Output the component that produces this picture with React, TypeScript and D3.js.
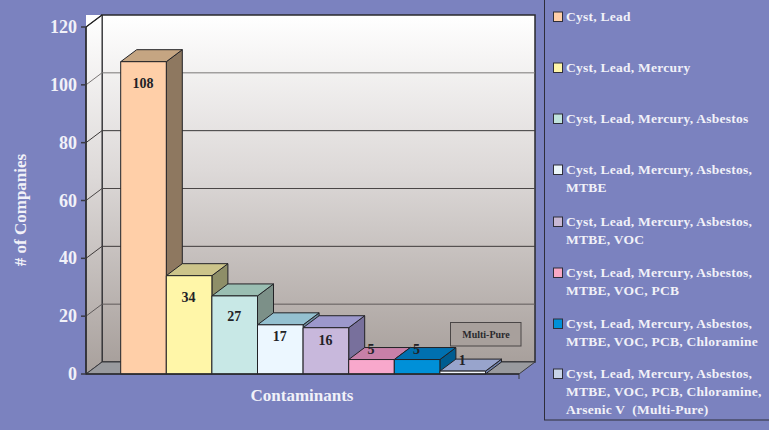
import React from "react";
import * as d3 from "d3";

const categories = [
  "Cyst, Lead",
  "Cyst, Lead, Mercury",
  "Cyst, Lead, Mercury, Asbestos",
  "Cyst, Lead, Mercury, Asbestos,\nMTBE",
  "Cyst, Lead, Mercury, Asbestos,\nMTBE, VOC",
  "Cyst, Lead, Mercury, Asbestos,\nMTBE, VOC, PCB",
  "Cyst, Lead, Mercury, Asbestos,\nMTBE, VOC, PCB, Chloramine",
  "Cyst, Lead, Mercury, Asbestos,\nMTBE, VOC, PCB, Chloramine,\nArsenic V  (Multi-Pure)",
];
const values = [108, 34, 27, 17, 16, 5, 5, 1];
const ticks = [0, 20, 40, 60, 80, 100, 120];
const frontColors = ["#FFCFA8", "#FFF6A8", "#C8E8E6", "#ECF7FF", "#C8B8DC", "#F8A8CC", "#0090D8", "#F0F4FA"];
const legendColors = ["#FFCFA8", "#FFF6A8", "#C0E4DC", "#ECF7FA", "#C8B8D4", "#F8A8C4", "#0090D8", "#C8D4E8"];
const topColors = ["#C5A582", "#CCC48A", "#9ABEB2", "#94C0D0", "#9C98CC", "#C880A8", "#0070B0", "#98A4CC"];
const sideColors = ["#8E7860", "#8E8E68", "#7C9088", "#6E8CA0", "#78709C", "#9868A0", "#005C90", "#7080A8"];
const labelOffsets = [22, 22, 21, 12, 13, -10, -10, -11];
const legendBaselines = [21, 72, 123, 174, 226, 277, 328, 378];
const gridColors = ["#5E5A5A", "#3E3A3A", "#4A4646", "#3A3838", "#7A7676"];

const BG = "#7B82BF";
const TXT = "#F1F1F8";
const SERIF = "'Liberation Serif', serif";
const DX = 16;
const DY = -12;

const y = d3.scaleLinear().domain([0, 120]).range([374, 27]);
const x = d3.scaleBand<number>().domain(d3.range(8)).range([120.7, 485.5]).padding(0);
const X0 = 86;
const X1 = 519;

export default function App() {
  const line = d3.line();
  const bw = x.bandwidth();
  return (
    <svg width={769} height={430} style={{ position: "absolute", left: 0, top: 0, display: "block" }}>
      <defs>
        <linearGradient id="wall" x1="0" y1="0" x2="0" y2="1">
          <stop offset="0" stopColor="#FFFFFF" />
          <stop offset="0.45" stopColor="#DDD9D8" />
          <stop offset="1" stopColor="#A8A09C" />
        </linearGradient>
      </defs>
      <rect width={769} height={430} fill={BG} />

      {/* white corner above the side wall */}
      <rect x={X0} y={y(120) + DY} width={DX} height={-DY} fill="#FFFFFF" />

      {/* back wall, side wall, floor */}
      <rect x={X0 + DX} y={y(120) + DY} width={X1 - X0} height={y(0) - y(120)} fill="url(#wall)" stroke="#2A2A2E" strokeWidth={1.5} />
      <path d={line([[X0, y(120)], [X0 + DX, y(120) + DY], [X0 + DX, y(0) + DY], [X0, y(0)]])! + "Z"} fill="url(#wall)" stroke="#2A2A2E" strokeWidth={1} />
      <path d={line([[X0, y(0)], [X0 + DX, y(0) + DY], [X1 + DX, y(0) + DY], [X1, y(0)]])! + "Z"} fill="#999A9E" stroke="#3A3A3E" strokeWidth={1} />

      {/* gridlines */}
      {ticks.slice(1, -1).map((t, i) => (
        <path key={t} d={line([[X0, y(t)], [X0 + DX, y(t) + DY], [X1 + DX, y(t) + DY]])!} stroke={gridColors[i]} strokeWidth={1} fill="none" />
      ))}
      <path d={line([[X0, y(120)], [X0 + DX, y(120) + DY]])!} stroke="#222" strokeWidth={1.2} fill="none" />

      {/* annotation */}
      <rect x={450.5} y={322.5} width={70.5} height={23.5} fill="#A8A09C" stroke="#4A4646" strokeWidth={1} />
      <text x={486} y={338} textAnchor="middle" fontFamily={SERIF} fontWeight="bold" fontSize={10} fill="#2A2A2E">Multi-Pure</text>

      {/* bars */}
      {values.map((v, i) => {
        const l = x(i)!;
        const r = l + bw;
        const t = y(v);
        const b = y(0);
        return (
          <g key={i} stroke="#222226" strokeWidth={1} strokeLinejoin="round">
            <path d={line([[r, t], [r + DX, t + DY], [r + DX, b + DY], [r, b]])! + "Z"} fill={sideColors[i]} />
            <path d={line([[l, t], [l + DX, t + DY], [r + DX, t + DY], [r, t]])! + "Z"} fill={topColors[i]} />
            <rect x={l} y={t} width={bw} height={b - t} fill={frontColors[i]} />
          </g>
        );
      })}
      <path d={line([[X1, y(0)], [X1, y(0) + 5]])!} stroke="#3A3A3E" fill="none" />
      {values.map((v, i) => (
        <text key={i} x={x(i)! + bw / 2 - 0.5} y={y(v) + labelOffsets[i] + 4.5} textAnchor="middle" fontFamily={SERIF} fontWeight="bold" fontSize={14} fill="#222226">
          {v}
        </text>
      ))}

      {/* axes */}
      <path d={line([[X0, y(120)], [X0, y(0)], [X1, y(0)]])!} stroke="#2A2A2E" strokeWidth={1.5} fill="none" />
      {ticks.map((t) => (
        <g key={t}>
          <path d={line([[X0 - 5, y(t)], [X0, y(t)]])!} stroke="#3A3A44" strokeWidth={1.5} fill="none" />
          <text x={77} y={y(t) + 6} textAnchor="end" fontFamily={SERIF} fontWeight="bold" fontSize={18} fill={TXT}>
            {t}
          </text>
        </g>
      ))}
      <text transform="translate(26,210) rotate(-90)" textAnchor="middle" fontFamily={SERIF} fontWeight="bold" fontSize={17} fill={TXT}># of Companies</text>
      <text x={302} y={401} textAnchor="middle" fontFamily={SERIF} fontWeight="bold" fontSize={17} fill={TXT}>Contaminants</text>

      {/* legend */}
      <rect x={544.5} y={-2} width={230} height={422} fill={BG} stroke="#2E2E3A" strokeWidth={1} />
      {categories.map((c, i) => (
        <g key={i}>
          <rect x={553.5} y={legendBaselines[i] - 9} width={9} height={9.5} fill={legendColors[i]} stroke="#2E2E3A" strokeWidth={1} />
          {c.split("\n").map((s, j) => (
            <text key={j} x={566} y={legendBaselines[i] + j * 18} fontFamily={SERIF} fontWeight="bold" fontSize={13.5} letterSpacing={0.25} fill={TXT} xmlSpace="preserve">
              {s}
            </text>
          ))}
        </g>
      ))}
    </svg>
  );
}
